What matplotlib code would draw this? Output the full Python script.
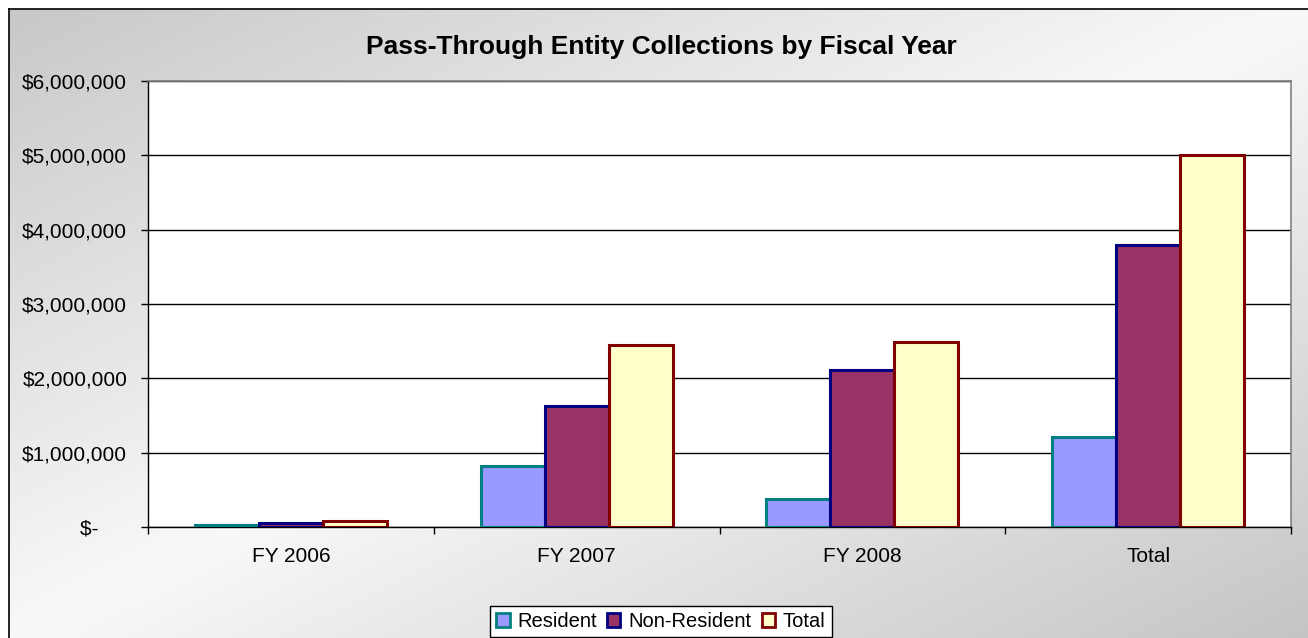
import numpy as np
import matplotlib
matplotlib.use('Agg')
import matplotlib.pyplot as plt
from matplotlib.patches import Patch
from matplotlib.ticker import FixedLocator

plt.rcParams['font.family'] = ['Liberation Sans', 'DejaVu Sans']

# Collections by fiscal year
categories = ['FY 2006', 'FY 2007', 'FY 2008', 'Total']
resident = [25000, 815000, 370000, 1210000]
non_resident = [55000, 1630000, 2115000, 3800000]
total = [80000, 2445000, 2485000, 5010000]

series = [
    ('Resident', resident, '#9999FF', '#008080'),
    ('Non-Resident', non_resident, '#993366', '#000080'),
    ('Total', total, '#FFFFCC', '#800000'),
]

W, H = 1308, 638
fig = plt.figure(figsize=(W / 100, H / 100), dpi=100)

# diagonal gray-white-gray chart area fill
bg = fig.add_axes([0, 0, 1, 1], zorder=-10)
xx, yy = np.meshgrid(np.arange(W), np.arange(H))
s = (xx - 9) / 1300 + (yy - 9) / 630
light = 1 - np.abs(s - 1)
gray = np.where(s < 1, 0.784, 0.77)
val = gray + (0.975 - gray) * np.clip(light, 0, 1)
val[(xx < 9) | (yy < 9)] = 1.0
bg.imshow(np.dstack([val] * 3), aspect='auto', extent=[0, W, H, 0])
bg.plot([9, 9], [H, 9], color='black', lw=1.2)
bg.plot([9, W], [9, 9], color='black', lw=1.2)
bg.set_xlim(0, W)
bg.set_ylim(H, 0)
bg.axis('off')

ax = fig.add_axes([148 / W, 1 - 527 / H, (1291 - 148) / W, (527 - 81) / H])
ax.set_facecolor('white')

x = np.arange(len(categories))
width = 0.224
for i, (name, vals, fc, ec) in enumerate(series):
    ax.bar(x + (i - 1) * width, vals, width, facecolor=fc, edgecolor=ec,
           linewidth=2.2, label=name, zorder=3)

ax.set_xlim(-0.5, len(categories) - 0.5)
ax.set_ylim(0, 6000000)

yticks = np.arange(0, 6000001, 1000000)
ax.set_yticks(yticks)
ax.set_yticklabels(['$-     ' if v == 0 else f'${v:,.0f}' for v in yticks])
ax.yaxis.grid(True, color='black', linewidth=1)
ax.set_axisbelow(True)

ax.xaxis.set_major_locator(FixedLocator(np.arange(-0.5, len(categories), 1.0)))
ax.xaxis.set_minor_locator(FixedLocator(x))
ax.set_xticklabels([], minor=False)
ax.set_xticklabels(categories, minor=True)
ax.tick_params(axis='x', which='major', direction='out', length=5, width=1)
ax.tick_params(axis='x', which='minor', length=0, pad=14.5, labelsize=15)
ax.tick_params(axis='y', direction='out', length=5, width=1, pad=10, labelsize=15)

for side in ['left', 'bottom']:
    ax.spines[side].set_color('black')
    ax.spines[side].set_linewidth(1)
for side in ['top', 'right']:
    ax.spines[side].set_color('#808080')
    ax.spines[side].set_linewidth(1.2)

fig.text(661 / W, 1 - 47 / H, 'Pass-Through Entity Collections by Fiscal Year',
         ha='center', va='center', fontsize=19, fontweight='bold')

handles = [Patch(facecolor=fc, edgecolor=ec, linewidth=2, label=name)
           for name, _, fc, ec in series]
fig.legend(handles=handles, loc='upper center', bbox_to_anchor=(661 / W, 1 - 606 / H),
           ncol=3, fontsize=14.5, frameon=True, fancybox=False, edgecolor='black',
           framealpha=1, handlelength=0.65, handleheight=0.65, handletextpad=0.4,
           columnspacing=0.5, borderpad=0.3, borderaxespad=0)

fig.savefig('out.png', dpi=100)
